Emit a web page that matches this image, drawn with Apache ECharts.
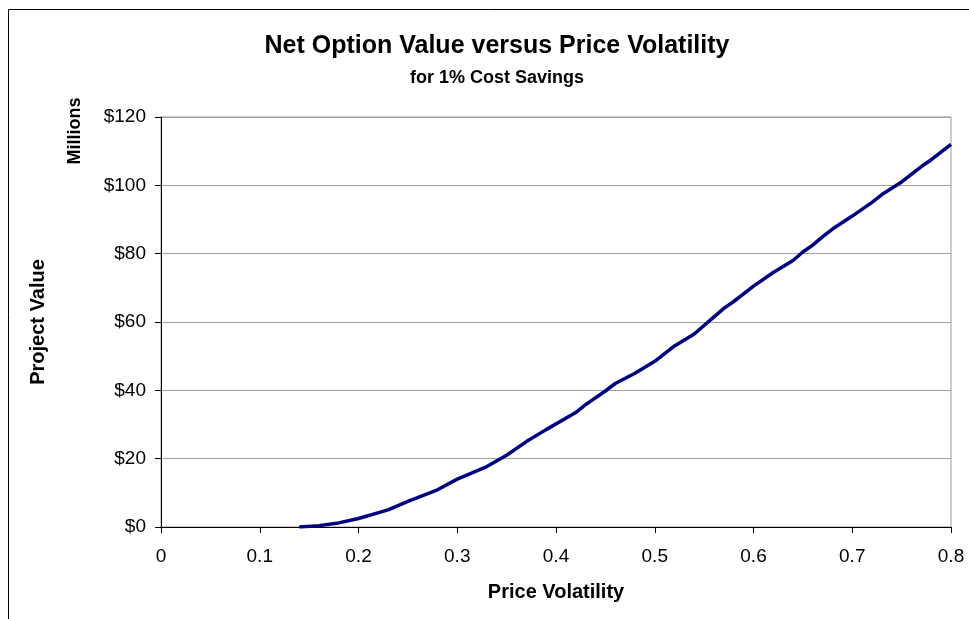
<!DOCTYPE html>
<html>
<head>
<meta charset="utf-8">
<title>Net Option Value versus Price Volatility</title>
<script src="https://cdn.jsdelivr.net/npm/echarts@6/dist/echarts.min.js"></script>
<style>
  html, body { margin: 0; padding: 0; background: #fff; }
  #chart { width: 969px; height: 619px; }
</style>
</head>
<body>
<div id="chart"></div>
<script>
// price volatility (x) and project value in $ millions (y)
const volatility = [0.14, 0.16, 0.18, 0.20, 0.23, 0.25, 0.28, 0.30, 0.33, 0.35, 0.37, 0.39,
  0.42, 0.43, 0.45, 0.46, 0.48, 0.50, 0.52, 0.54, 0.56, 0.57, 0.58, 0.60, 0.62, 0.64,
  0.65, 0.66, 0.67, 0.68, 0.70, 0.72, 0.73, 0.75, 0.77, 0.78, 0.80];
const projectValue = [0, 0.4, 1.2, 2.5, 5.0, 7.5, 10.9, 14.0, 17.7, 21.0, 25.0, 28.5,
  33.5, 35.8, 39.8, 42.0, 45.0, 48.5, 53.0, 56.5, 61.5, 64.0, 66.0, 70.5, 74.5, 78.0,
  80.5, 82.5, 85.0, 87.2, 91.0, 95.0, 97.3, 101.0, 105.5, 107.5, 112.0];
const xTicks = [0, 0.1, 0.2, 0.3, 0.4, 0.5, 0.6, 0.7, 0.8];
const yTicks = [0, 20, 40, 60, 80, 100, 120];

const FONT = '"Liberation Sans", Arial, sans-serif';

let myChart = echarts.init(document.getElementById('chart'));

// pair up the points for the value axis
const points = volatility.map((v, i) => [v, projectValue[i]]);

myChart.setOption({
  animation: false,
  textStyle: { fontFamily: FONT },
  // outer chart frame, titles and the "Millions" unit label
  graphic: [
    {
      type: 'rect', silent: true,
      shape: { x: 8.5, y: 9.5, width: 1000, height: 700 },
      style: { fill: 'none', stroke: '#000', lineWidth: 1 }
    },
    {
      type: 'text', silent: true, x: 497, y: 46,
      style: {
        text: 'Net Option Value versus Price Volatility', fontSize: 25, fontWeight: 'bold',
        fill: '#000', fontFamily: FONT, align: 'center', verticalAlign: 'middle'
      }
    },
    {
      type: 'text', silent: true, x: 497, y: 78,
      style: {
        text: 'for 1% Cost Savings', fontSize: 18, fontWeight: 'bold',
        fill: '#000', fontFamily: FONT, align: 'center', verticalAlign: 'middle'
      }
    },
    {
      type: 'text', silent: true,
      x: 75.5, y: 131, rotation: Math.PI / 2,
      style: {
        text: 'Millions', fontSize: 18, fontWeight: 'bold', fill: '#000',
        fontFamily: FONT, align: 'center', verticalAlign: 'middle'
      }
    }
  ],
  grid: {
    left: 161, top: 117, width: 790, height: 410,
    show: true, borderColor: '#999', borderWidth: 1, backgroundColor: 'transparent'
  },
  xAxis: {
    type: 'value',
    min: xTicks[0], max: xTicks[xTicks.length - 1], interval: 0.1,
    name: 'Price Volatility',
    nameLocation: 'middle', nameGap: 55,
    nameTextStyle: { fontSize: 20, fontWeight: 'bold', color: '#000', fontFamily: FONT },
    axisLine: { show: true, onZero: false, lineStyle: { color: '#000', width: 1 } },
    axisTick: { show: true, inside: false, length: 6, lineStyle: { color: '#000' } },
    axisLabel: {
      fontSize: 19, color: '#000', margin: 20, fontFamily: FONT,
      formatter: v => String(Math.round(v * 10) / 10)
    },
    splitLine: { show: false }
  },
  yAxis: {
    type: 'value',
    min: yTicks[0], max: yTicks[yTicks.length - 1], interval: 20,
    name: 'Project Value',
    nameLocation: 'middle', nameGap: 113, nameRotate: 90,
    nameTextStyle: { fontSize: 20, fontWeight: 'bold', color: '#000', fontFamily: FONT },
    axisLine: { show: true, lineStyle: { color: '#000', width: 1 } },
    axisTick: { show: true, inside: false, length: 6, lineStyle: { color: '#000' } },
    axisLabel: {
      fontSize: 19, color: '#000', margin: 15, fontFamily: FONT,
      formatter: v => '$' + v
    },
    splitLine: { show: true, lineStyle: { color: '#a0a0a0', width: 1 } }
  },
  series: [{
    name: 'Project Value',
    type: 'line',
    data: points,
    showSymbol: false,
    lineStyle: { color: '#000080', width: 3.5 },
    itemStyle: { color: '#000080' }
  }]
});
</script>
</body>
</html>
